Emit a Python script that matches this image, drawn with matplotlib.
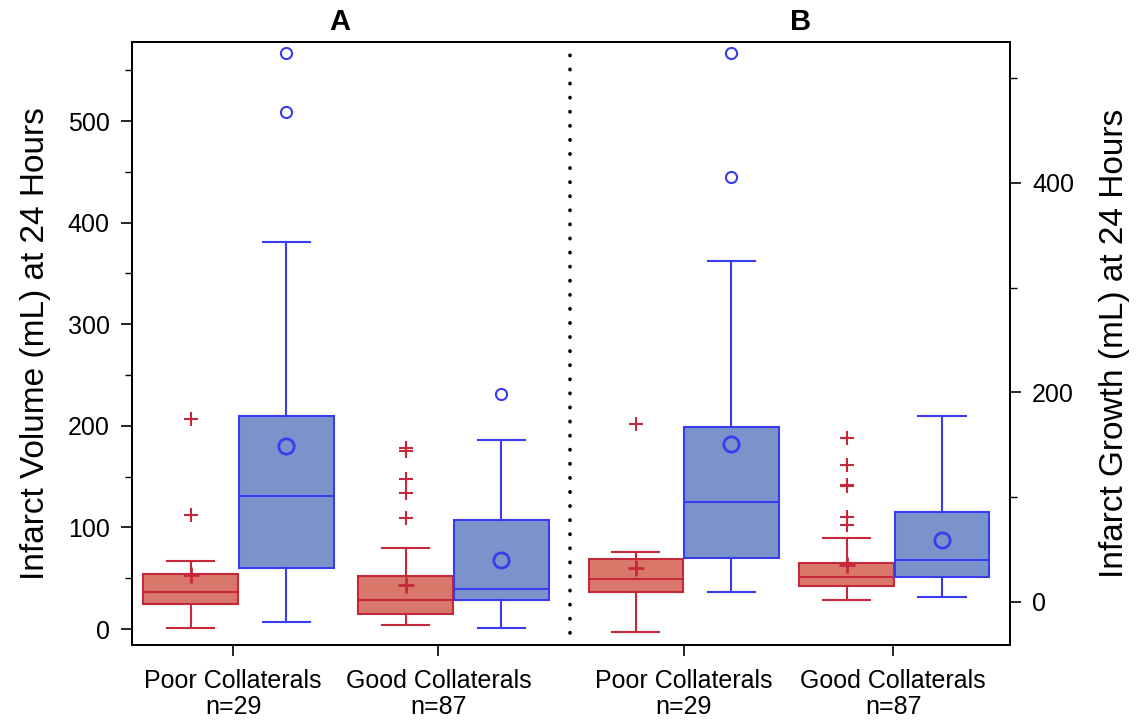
import matplotlib
matplotlib.use("Agg")
import matplotlib.pyplot as plt
from matplotlib.ticker import MultipleLocator
from matplotlib.transforms import blended_transform_factory

plt.rcParams["font.family"] = ["Liberation Sans", "DejaVu Sans"]

# ---- data (A: left axis, B: right axis) ----
# order per panel: poor-red, poor-blue, good-red, good-blue
A_Q1 = [24.9, 60.4, 14.4, 28.5]
A_MED = [36.1, 130.6, 28.5, 39.1]
A_Q3 = [54.4, 209.6, 52.5, 107.3]
A_WLO = [1.0, 6.9, 3.6, 1.0]
A_WHI = [66.6, 381.0, 80.0, 185.7]
A_MEAN = [53.0, 180.4, 43.3, 67.9]
A_FLIERS = [[206.7, 112.5], [567.0, 509.0],
            [177.8, 175.5, 147.6, 133.5, 109.3], [231.6]]

B_Q1 = [9.2, 41.7, 15.0, 24.2]
B_MED = [22.3, 95.5, 24.2, 40.1]
B_Q3 = [41.4, 166.7, 37.2, 86.2]
B_WLO = [-28.3, 9.2, 1.6, 4.8]
B_WHI = [47.7, 325.5, 61.1, 177.6]
B_MEAN = [32.8, 150.5, 35.5, 59.5]
B_FLIERS = [[169.6], [524.0, 405.7],
            [156.3, 131.1, 111.4, 110.6, 81.4, 73.5], []]

CATS = ["Poor Collaterals\nn=29", "Good Collaterals\nn=87",
        "Poor Collaterals\nn=29", "Good Collaterals\nn=87"]

# ---- layout ----
GROUP_X = [1.0, 2.0, 3.07, 4.05]
TICK_X = [0.975, 1.93, 3.07, 4.045]
OFF = 0.222
WIDTH = 0.44

RED_FILL, RED_EDGE = "#d9786a", "#c4283a"
BLUE_FILL, BLUE_EDGE = "#7b93cb", "#3b3bee"


def stats(q1, med, q3, wlo, whi, mean, fliers):
    return [dict(q1=q1[i], med=med[i], q3=q3[i], whislo=wlo[i], whishi=whi[i],
                 mean=mean[i], fliers=fliers[i]) for i in range(len(q1))]


def draw(ax, st, gx):
    for i, s in enumerate(st):
        red = i % 2 == 0
        g = gx[i // 2]
        pos = g - OFF if red else g + OFF
        fill = RED_FILL if red else BLUE_FILL
        edge = RED_EDGE if red else BLUE_EDGE
        lw = 1.5
        ax.bxp([s], positions=[pos], widths=WIDTH, patch_artist=True,
               showmeans=True, manage_ticks=False,
               boxprops=dict(facecolor=fill, edgecolor=edge, linewidth=lw),
               medianprops=dict(color=edge, linewidth=lw),
               whiskerprops=dict(color=edge, linewidth=lw),
               capprops=dict(color=edge, linewidth=lw),
               capwidths=WIDTH * 0.5,
               meanprops=dict(marker="+" if red else "o", markersize=12 if red else 11,
                              markeredgecolor=edge, markerfacecolor="none",
                              markeredgewidth=2.0, linestyle="none"),
               flierprops=dict(marker="+" if red else "o", markersize=10 if red else 8,
                               markeredgecolor=edge, markerfacecolor="none",
                               markeredgewidth=1.5, linestyle="none"))


fig = plt.figure(figsize=(11.36, 7.26), dpi=100)
ax = fig.add_axes([0.1162, 0.1116, 0.7728, 0.8306])
ax2 = ax.twinx()

draw(ax, stats(A_Q1, A_MED, A_Q3, A_WLO, A_WHI, A_MEAN, A_FLIERS), GROUP_X[:2])
draw(ax2, stats(B_Q1, B_MED, B_Q3, B_WLO, B_WHI, B_MEAN, B_FLIERS), GROUP_X[2:])

ax.set_xlim(0.5047, 4.588)
ax.set_ylim(-15.7, 577.8)
ax2.set_ylim(-41.05, 534.6)

ax.yaxis.set_major_locator(MultipleLocator(100))
ax.yaxis.set_minor_locator(MultipleLocator(50))
ax2.yaxis.set_major_locator(MultipleLocator(200))
ax2.yaxis.set_minor_locator(MultipleLocator(100))

ax.set_xticks(TICK_X)
ax.set_xticklabels(CATS, fontsize=18, linespacing=1.15)

for a in (ax, ax2):
    a.tick_params(axis="both", which="major", direction="out", length=8, width=1.2,
                  labelsize=18, pad=8)
    a.tick_params(axis="y", which="minor", direction="out", length=5, width=1.0)
    for sp in a.spines.values():
        sp.set_linewidth(1.4)
ax.tick_params(axis="x", pad=9, labelsize=18)

ax.set_ylabel("Infarct Volume (mL) at 24 Hours", fontsize=24, labelpad=12)
ax2.set_ylabel("Infarct Growth (mL) at 24 Hours", fontsize=24, labelpad=18)

# dotted divider between panels
ax.axvline(2.542, ymin=0.02, ymax=0.99, color="black", linewidth=2.6,
           linestyle=(0, (0.1, 3.8)), dash_capstyle="round")

tr = blended_transform_factory(ax.transData, ax.transAxes)
ax.text(1.472, 1.033, "A", transform=tr, ha="center", va="center",
        fontsize=21, fontweight="bold")
ax.text(3.612, 1.033, "B", transform=tr, ha="center", va="center",
        fontsize=21, fontweight="bold")

fig.savefig("out.png", dpi=100)
